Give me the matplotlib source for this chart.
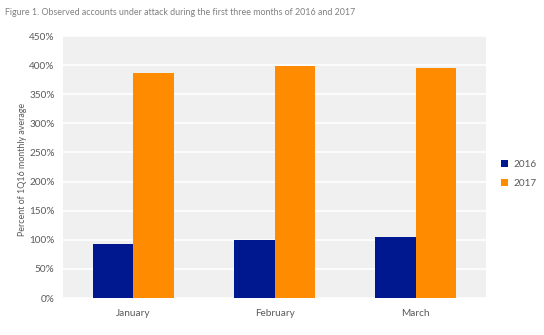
import matplotlib.pyplot as plt
import numpy as np
from matplotlib.ticker import FuncFormatter

months = ["January", "February", "March"]
vals_2016 = [93, 100, 104]
vals_2017 = [386, 399, 395]
series_names = ["2016", "2017"]
colors = ["#00188f", "#ff8c00"]

plt.rcParams['font.family'] = ['Lato', 'DejaVu Sans']

fig = plt.figure(figsize=(5.44, 3.35), dpi=100)
ax = fig.add_axes([0.1158, 0.1104, 0.7776, 0.7821])
ax.set_facecolor("#f0f0f0")

x = np.arange(len(months))
w = 0.285
ax.bar(x - w / 2, vals_2016, w, color=colors[0], label=series_names[0], zorder=3)
ax.bar(x + w / 2, vals_2017, w, color=colors[1], label=series_names[1], zorder=3)

ax.set_xlim(-0.5, 2.5)
ax.set_ylim(0, 450)
ax.set_yticks(np.arange(0, 451, 50))
ax.yaxis.set_major_formatter(FuncFormatter(lambda v, p: f"{int(v)}%"))
ax.set_xticks(x)
ax.set_xticklabels(months)
ax.grid(axis='y', color='white', linewidth=1.2, zorder=1)
for s in ax.spines.values():
    s.set_visible(False)
ax.tick_params(length=0, labelsize=7.2, colors='#595959', pad=6)
ax.tick_params(axis='x', pad=8)
ax.set_ylabel("Percent of 1Q16 monthly average", fontsize=6.4, color='#595959')
ax.yaxis.set_label_coords(-0.085, 0.49)

fig.text(0.009, 0.962, "Figure 1. Observed accounts under attack during the first three months of 2016 and 2017",
         fontsize=6.4, color='#808080', ha='left', va='center')

fig.legend(loc='center left', bbox_to_anchor=(0.905, 0.48), frameon=False, fontsize=7.2,
           handlelength=0.7, handleheight=0.7, handletextpad=0.5, labelspacing=1.0,
           labelcolor='#595959')

fig.savefig("out.png", dpi=100)
